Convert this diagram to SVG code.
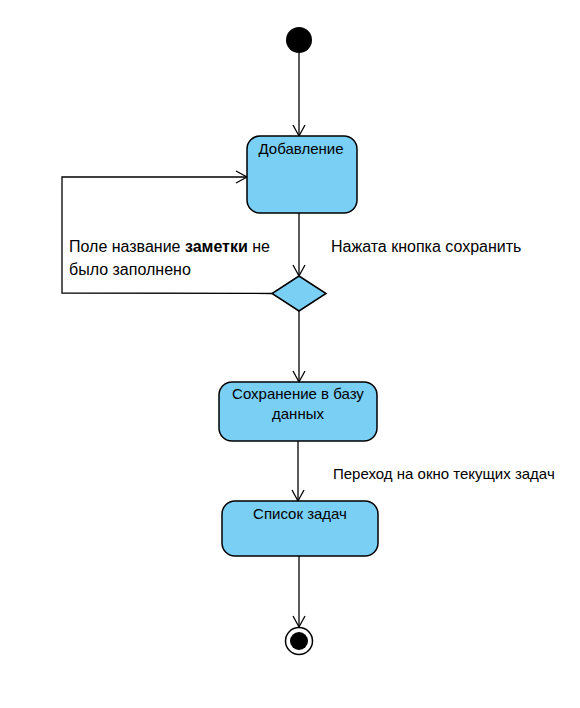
<svg xmlns="http://www.w3.org/2000/svg" width="580" height="708" viewBox="0 0 580 708">
<defs>
<marker id="arr" markerWidth="14" markerHeight="14" refX="12" refY="7" orient="auto" markerUnits="userSpaceOnUse">
<path d="M1,1 L12,7 L1,13" fill="none" stroke="#000" stroke-width="1.3"/>
</marker>
</defs>
<style>
.n{fill:#7ACFF5;stroke:#000;stroke-width:1.5}
.c{fill:none;stroke:#000;stroke-width:1.3}
.t{font-family:"Liberation Sans",Arial,sans-serif;font-size:15px;fill:#000}
.l{font-size:16px}
.m{text-anchor:middle}
</style>
<rect width="580" height="708" fill="#fff"/>
<g id="connectors">
<path class="c" d="M299,53 V136" marker-end="url(#arr)"/>
<path class="c" d="M299,213 V276" marker-end="url(#arr)"/>
<path class="c" d="M272,293.5 L62,293 V177 H247" marker-end="url(#arr)"/>
<path class="c" d="M299,311 V382" marker-end="url(#arr)"/>
<path class="c" d="M298,441 V501" marker-end="url(#arr)"/>
<path class="c" d="M299,556 V627" marker-end="url(#arr)"/>
<text class="t l" x="69" y="252">Поле название <tspan font-weight="bold">заметки</tspan> не</text>
<text class="t l" x="69" y="275">было заполнено</text>
<text class="t l" x="331" y="252">Нажата кнопка сохранить</text>
<text class="t" x="333" y="479" font-size="14">Переход на окно текущих задач</text>
</g>
<g id="start"><circle cx="299" cy="40" r="13" fill="#000"/></g>
<g id="add"><rect class="n" x="247" y="136" width="110" height="77" rx="13"/><text class="t m" x="301" y="154">Добавление</text></g>
<g id="decision"><polygon class="n" points="299,276 326,293.5 299,311 272,293.5"/></g>
<g id="save"><rect class="n" x="219" y="382" width="158" height="59" rx="13"/><text class="t m" x="298" y="399">Сохранение в базу</text><text class="t m" x="298" y="419">данных</text></g>
<g id="list"><rect class="n" x="222" y="501" width="156" height="55" rx="13"/><text class="t m" x="300" y="519">Список задач</text></g>
<g id="end"><circle cx="299" cy="641" r="13.5" fill="#fff" stroke="#000" stroke-width="1.5"/><circle cx="299" cy="641" r="9" fill="#000"/></g>
</svg>
